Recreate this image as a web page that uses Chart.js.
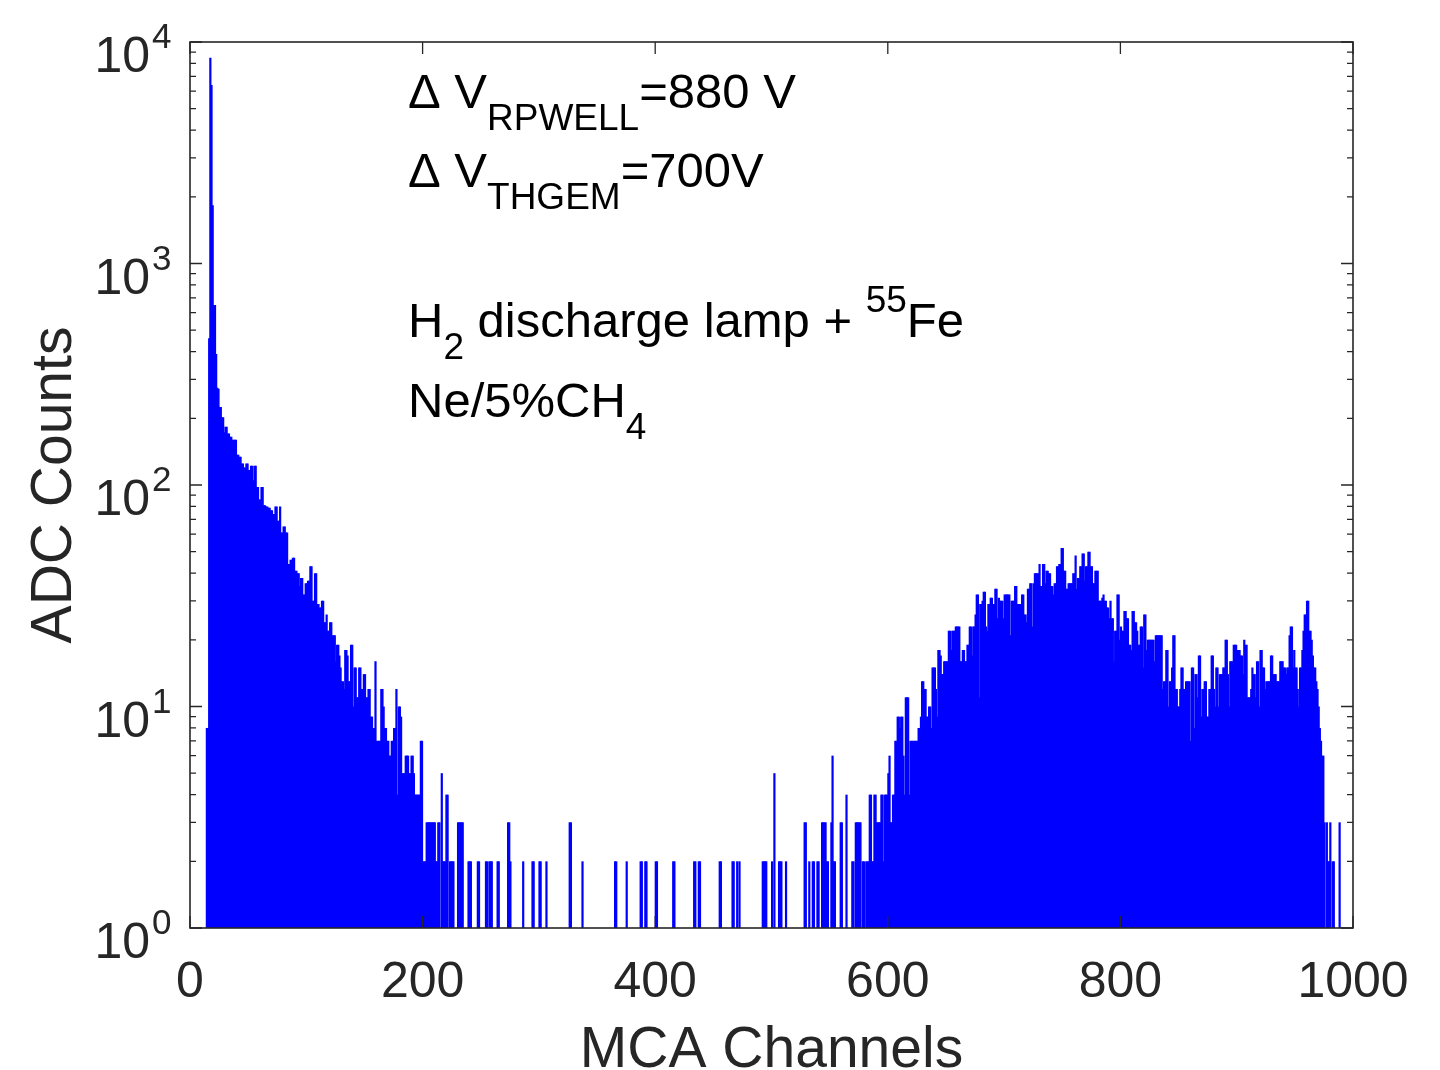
<!DOCTYPE html>
<html>
<head>
<meta charset="utf-8">
<title>MCA spectrum</title>
<script src="https://cdn.jsdelivr.net/npm/chart.js@4.4.1/dist/chart.umd.min.js"></script>
<style>
  html, body { margin: 0; padding: 0; background: #fff; }
  #wrap { width: 1440px; height: 1070px; }
</style>
</head>
<body>
<div id="wrap"><canvas id="spectrum" width="1440" height="1070"></canvas></div>
<script>
// counts per MCA channel, three stretches of the spectrum
const lowPeakStart = 13;
const lowPeakCounts = [
  0, 8, 8, 460, 8500, 6400, 1830, 650, 650, 390,        // ch 13
  275, 272, 225, 225, 202, 202, 173, 183, 183, 171,     // ch 23
  171, 165, 165, 160, 160, 160, 160, 137, 137, 134,     // ch 33
  134, 125, 125, 120, 120, 125, 125, 117, 117, 122,     // ch 43
  122, 105, 122, 122, 98, 98, 86, 86, 98, 98,           // ch 53
  81, 81, 80, 80, 79, 79, 77, 77, 74, 74,               // ch 63
  80, 80, 69, 69, 80, 61, 61, 65, 65, 61,               // ch 73
  61, 44, 44, 46, 46, 47, 47, 41, 41, 40,               // ch 83
  40, 35, 38, 38, 32, 32, 36, 36, 37, 37,               // ch 93
  43, 43, 30, 30, 40, 40, 29, 29, 28, 28,               // ch 103
  30, 30, 24, 24, 26, 22, 22, 24, 24, 21,               // ch 113
  21, 21, 16, 19, 19, 17, 15, 13, 13, 12,               // ch 123
  18, 18, 17, 13, 13, 19, 19, 10, 15, 15,               // ch 133
  11, 11, 15, 15, 12, 12, 14, 14, 11, 11,               // ch 143
  12, 12, 9, 9, 8, 8, 16, 7, 7, 7,                      // ch 153
  7, 12, 12, 10, 8, 8, 7, 7, 6, 6,                      // ch 163
  7, 7, 8, 8, 12, 4, 10, 10, 9, 5,                      // ch 173
  5, 5, 6, 6, 6, 5, 5, 6, 6, 5,                         // ch 183
  4, 4, 4, 4, 4, 7, 7, 2, 2, 2,                         // ch 193
  3, 3, 3, 3, 3, 3, 3, 3, 2, 2,                         // ch 203
  3, 3                                                  // ch 213
];

const valleyStart = 215;
const valleyCounts = [
  0, 5, 2, 2, 2, 4, 4, 0, 2, 2,   // ch 215
  2, 2, 0, 0, 0, 3, 3, 3, 3, 3,   // ch 225
  0, 0, 0, 0, 2, 2, 2, 0, 0, 0,   // ch 235
  0, 0, 2, 2, 0, 0, 0, 0, 0, 2,   // ch 245
  2, 0, 2, 2, 2, 0, 0, 0, 0, 2,   // ch 255
  2, 0, 0, 0, 0, 0, 0, 0, 3, 3,   // ch 265
  2, 0, 0, 0, 0, 0, 0, 0, 0, 0,   // ch 275
  0, 2, 0, 0, 0, 0, 0, 0, 0, 2,   // ch 285
  2, 0, 0, 0, 0, 2, 2, 0, 0, 0,   // ch 295
  0, 2, 0, 0, 0, 0, 0, 0, 0, 0,   // ch 305
  0, 0, 0, 0, 0, 0, 0, 0, 0, 0,   // ch 315
  0, 3, 3, 0, 0, 0, 0, 0, 0, 0,   // ch 325
  0, 0, 2, 0, 0, 0, 0, 0, 0, 0,   // ch 335
  0, 0, 0, 0, 0, 0, 0, 0, 0, 0,   // ch 345
  0, 0, 0, 0, 0, 0, 0, 0, 0, 0,   // ch 355
  2, 2, 0, 0, 0, 0, 0, 0, 0, 0,   // ch 365
  2, 0, 0, 0, 0, 0, 0, 0, 0, 0,   // ch 375
  0, 0, 2, 2, 0, 0, 2, 2, 0, 0,   // ch 385
  0, 0, 0, 0, 0, 2, 2, 0, 0, 0,   // ch 395
  0, 0, 0, 0, 0, 0, 0, 0, 0, 0,   // ch 405
  2, 2, 0, 0, 0, 0, 0, 0, 0, 0,   // ch 415
  0, 0, 0, 0, 0, 0, 0, 0, 2, 2,   // ch 425
  0, 0, 2, 2, 0, 0, 0, 0, 0, 0,   // ch 435
  0, 0, 0, 0, 0, 0, 0, 0, 0, 0,   // ch 445
  2, 2, 0, 0, 0, 0, 0, 0, 0, 0,   // ch 455
  0, 2, 2, 0, 0, 2, 0, 2, 0, 0,   // ch 465
  0, 0, 0, 0, 0, 0, 0, 0, 0, 0,   // ch 475
  0, 0, 0, 0, 0, 0, 0, 2, 2, 2,   // ch 485
  2, 0, 0, 0, 0, 2, 0, 5, 0, 0,   // ch 495
  0, 2, 2, 2, 0, 0, 0, 2, 0, 0,   // ch 505
  0, 0, 0, 0, 0, 0, 0, 0, 0, 0,   // ch 515
  0, 0, 0, 3, 3, 0, 0, 2, 0, 0,   // ch 525
  2, 2, 0, 0, 2, 2, 0, 0, 3, 3,   // ch 535
  3, 3, 2, 2, 0, 0, 3, 6, 2, 2,   // ch 545
  0, 0, 0, 0, 3, 3, 0, 0, 0, 4,   // ch 555
  0, 0, 0, 0, 2, 2, 0, 3, 3, 3,   // ch 565
  3                               // ch 575
];

const fePeakStart = 576;
const fePeakCounts = [
  3, 0, 2, 2, 0, 2, 2, 2, 4, 4,             // ch 576
  2, 2, 4, 4, 3, 3, 3, 3, 4, 4,             // ch 586
  2, 4, 4, 4, 5, 6, 3, 3, 4, 4,             // ch 596
  7, 7, 9, 9, 8, 9, 9, 6, 4, 11,            // ch 606
  11, 11, 4, 7, 7, 7, 7, 7, 7, 7,           // ch 616
  8, 8, 9, 13, 13, 12, 12, 9, 9, 10,        // ch 626
  10, 8, 15, 15, 15, 12, 9, 18, 18, 17,     // ch 636
  14, 14, 16, 16, 16, 16, 22, 22, 18, 22,   // ch 646
  22, 22, 23, 23, 23, 23, 16, 16, 18, 18,   // ch 656
  16, 16, 19, 19, 23, 23, 17, 23, 23, 26,   // ch 666
  32, 32, 11, 29, 29, 30, 33, 33, 23, 22,   // ch 676
  29, 29, 31, 31, 29, 29, 34, 34, 25, 31,   // ch 686
  30, 30, 30, 25, 32, 32, 32, 32, 32, 21,   // ch 696
  30, 30, 30, 35, 35, 29, 29, 29, 29, 32,   // ch 706
  32, 26, 26, 24, 34, 34, 36, 36, 23, 36,   // ch 716
  40, 40, 40, 40, 44, 35, 35, 44, 44, 36,   // ch 726
  41, 41, 40, 40, 35, 35, 32, 36, 36, 43,   // ch 736
  43, 44, 44, 52, 52, 41, 41, 34, 34, 36,   // ch 746
  36, 36, 36, 40, 40, 48, 34, 38, 38, 43,   // ch 756
  43, 49, 49, 37, 43, 43, 50, 50, 43, 43,   // ch 766
  36, 36, 41, 41, 41, 30, 30, 30, 31, 32,   // ch 776
  30, 30, 28, 28, 25, 30, 25, 25, 16, 22,   // ch 786
  22, 32, 32, 20, 23, 22, 22, 27, 27, 25,   // ch 796
  25, 19, 19, 18, 27, 27, 24, 24, 22, 19,   // ch 806
  19, 23, 23, 15, 26, 26, 18, 20, 20, 20,   // ch 816
  20, 20, 20, 16, 21, 21, 21, 21, 21, 21,   // ch 826
  12, 13, 13, 18, 18, 10, 13, 13, 15, 21,   // ch 836
  21, 12, 12, 10, 10, 12, 15, 15, 12, 12,   // ch 846
  13, 13, 13, 13, 7, 15, 15, 8, 14, 14,     // ch 856
  11, 17, 17, 9, 12, 12, 13, 13, 9, 9,      // ch 866
  12, 12, 17, 17, 12, 10, 15, 15, 10, 14,   // ch 876
  14, 14, 15, 15, 20, 20, 14, 10, 16, 16,   // ch 886
  16, 19, 19, 19, 18, 18, 18, 17, 17, 14,   // ch 896
  20, 19, 19, 11, 11, 11, 12, 15, 14, 14,   // ch 906
  11, 16, 16, 10, 18, 18, 15, 15, 12, 13,   // ch 916
  13, 13, 13, 17, 17, 14, 14, 14, 13, 13,   // ch 926
  13, 16, 16, 16, 15, 15, 14, 15, 15, 21,   // ch 936
  23, 23, 15, 18, 15, 15, 12, 10, 15, 15,   // ch 946
  18, 22, 26, 26, 30, 30, 22, 22, 20, 17,   // ch 956
  15, 15, 13, 12, 10, 8, 7, 6, 6, 3,        // ch 966
  0, 3, 2, 2, 3, 0, 2, 2, 0, 0,             // ch 976
  0, 0, 3                                   // ch 986
];

const xTicks = [0, 200, 400, 600, 800, 1000];
const yDecades = [0, 1, 2, 3, 4];
const xTitle = "MCA Channels";
const yTitle = "ADC Counts";

// text lines inside the axes; pos marks sub/superscript pieces
const noteLines = [
  [{ text: "\u0394 V" }, { text: "RPWELL", pos: "sub" }, { text: "=880 V" }],
  [{ text: "\u0394 V" }, { text: "THGEM", pos: "sub" }, { text: "=700V" }],
  [{ text: "H" }, { text: "2", pos: "sub" }, { text: " discharge lamp + " }, { text: "55", pos: "sup" }, { text: "Fe" }],
  [{ text: "Ne/5%CH" }, { text: "4", pos: "sub" }]
];

function toPoints(start, counts) {
  return counts.map((n, i) => ({ x: start + i + 0.5, y: n }));
}

const points = [].concat(
  toPoints(lowPeakStart, lowPeakCounts),
  toPoints(valleyStart, valleyCounts),
  toPoints(fePeakStart, fePeakCounts)
);

const FONT = "'Liberation Sans', Arial, Helvetica, sans-serif";
const AXIS_COLOR = "#262626";

function drawRich(ctx, x, y, parts, mainSize, scriptSize) {
  parts.forEach(p => {
    const size = p.pos ? scriptSize : mainSize;
    ctx.font = size + "px " + FONT;
    let dy = 0;
    if (p.pos === "sub") dy = 22;
    if (p.pos === "sup") dy = -25;
    ctx.fillText(p.text, x, y + dy);
    x += ctx.measureText(p.text).width;
  });
}

// box, inward ticks and all axis text in MATLAB style
const axesFrame = {
  id: "axesFrame",
  afterDraw(chart) {
    const { ctx, chartArea: a, scales: { x, y } } = chart;
    ctx.save();
    ctx.strokeStyle = AXIS_COLOR;
    ctx.lineWidth = 1.6;
    ctx.strokeRect(a.left, a.top, a.right - a.left, a.bottom - a.top);

    ctx.lineWidth = 1.3;
    ctx.beginPath();
    xTicks.forEach(v => {
      const px = x.getPixelForValue(v);
      ctx.moveTo(px, a.bottom); ctx.lineTo(px, a.bottom - 12);
      ctx.moveTo(px, a.top); ctx.lineTo(px, a.top + 12);
    });
    yDecades.forEach(d => {
      for (let m = 1; m <= 9; m++) {
        const v = m * Math.pow(10, d);
        if (v > 10000) break;
        const py = y.getPixelForValue(v);
        const len = m === 1 ? 12 : 6;
        ctx.moveTo(a.left, py); ctx.lineTo(a.left + len, py);
        ctx.moveTo(a.right, py); ctx.lineTo(a.right - len, py);
      }
    });
    ctx.stroke();

    ctx.fillStyle = AXIS_COLOR;
    ctx.textBaseline = "alphabetic";

    // x tick labels
    ctx.font = "50px " + FONT;
    ctx.textAlign = "center";
    xTicks.forEach(v => ctx.fillText(String(v), x.getPixelForValue(v), 997));

    // y tick labels 10^n
    yDecades.forEach(d => {
      const py = y.getPixelForValue(Math.pow(10, d));
      ctx.font = "50px " + FONT;
      ctx.textAlign = "right";
      ctx.fillText("10", 150, py + 30);
      ctx.font = "35px " + FONT;
      ctx.textAlign = "left";
      ctx.fillText(String(d), 152, py + 6);
    });

    // axis titles
    ctx.font = "57px " + FONT;
    ctx.textAlign = "center";
    ctx.fillText(xTitle, (a.left + a.right) / 2, 1067);
    ctx.save();
    ctx.translate(71, (a.top + a.bottom) / 2);
    ctx.rotate(-Math.PI / 2);
    ctx.fillText(yTitle, 0, 0);
    ctx.restore();

    // annotation block
    ctx.fillStyle = "#000";
    ctx.textAlign = "left";
    const baselines = [108, 187, 337, 417];
    noteLines.forEach((line, i) => drawRich(ctx, 408, baselines[i], line, 49, 37));
    ctx.restore();
  }
};

new Chart(document.getElementById("spectrum"), {
  type: "bar",
  data: {
    datasets: [{
      data: points,
      backgroundColor: "#0000ff",
      borderWidth: 0,
      barPercentage: 1.9,
      categoryPercentage: 1
    }]
  },
  options: {
    responsive: false,
    animation: false,
    devicePixelRatio: 1,
    layout: { padding: { left: 190, right: 87, top: 42, bottom: 142 } },
    plugins: { legend: { display: false }, tooltip: { enabled: false } },
    scales: {
      x: { type: "linear", min: 0, max: 1000, offset: false, display: false },
      y: { type: "logarithmic", min: 1, max: 10000, display: false }
    }
  },
  plugins: [axesFrame]
});
</script>
</body>
</html>
